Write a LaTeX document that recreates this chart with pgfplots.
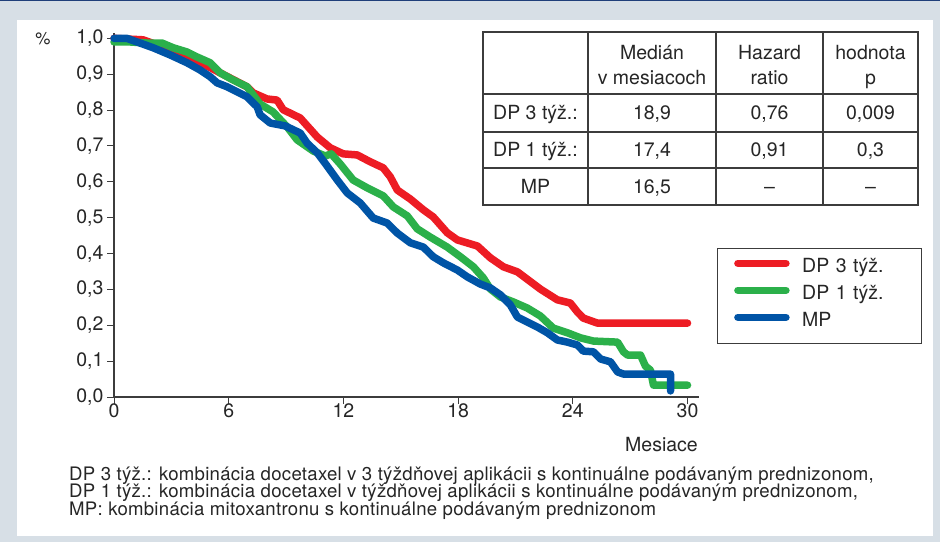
\documentclass[border=0pt]{standalone}
\usepackage{fontspec}
\setmainfont{TeX Gyre Heros}
\newfontfamily\capfont{TeX Gyre Heros}[LetterSpace=1.5]
\usepackage{pgfplots}
\pgfplotsset{compat=1.18}
\definecolor{bggray}{HTML}{D7DFE6}
\definecolor{navy}{HTML}{1F3F7A}
\definecolor{linegray}{HTML}{3C3C3C}
\definecolor{kmred}{HTML}{ED1C24}
\definecolor{kmgreen}{HTML}{2BB04A}
\definecolor{kmblue}{HTML}{0054A6}
\newcommand{\txt}{\fontsize{19.5}{21}\selectfont}

\begin{document}
\begin{tikzpicture}[x=1pt,y=1pt]
% frame
\fill[bggray] (0,0) rectangle (940,542);
\fill[navy] (0,540.6) rectangle (940,542);
\fill[white] (17,6) rectangle (933,522);

\begin{axis}[
  at={(114pt,145pt)}, anchor=south west,
  scale only axis, width=585pt, height=364pt,
  xmin=0, xmax=30.6, ymin=0, ymax=1.015,
  axis x line*=bottom, axis y line*=left,
  axis line style={-, linegray, line width=1.3pt},
  xtick={0,6,12,18,24,30},
  ytick={0,0.1,0.2,0.3,0.4,0.5,0.6,0.7,0.8,0.9,1},
  tick align=outside, major tick length=7pt,
  tick style={linegray, line width=1pt},
  /pgf/number format/assume math mode=true,
  tick label style={font=\txt, text=black!85},
  xticklabel style={yshift=4pt},
  yticklabel style={/pgf/number format/fixed, /pgf/number format/fixed zerofill,
    /pgf/number format/precision=1, /pgf/number format/use comma},
  clip=false,
  legend style={at={(axis description cs:1.0308,0.409)}, anchor=north west,
    draw=linegray, line width=1.3pt, font=\txt, text=black!85,
    inner xsep=16.5pt, inner ysep=10pt, row sep=6pt, column sep=10.5pt,
    nodes={inner sep=2pt, text height=12pt, text depth=5pt},
    /tikz/column 2/.style={text width=101pt}},
  legend cell align=left,
  legend image code/.code={\draw[#1, line cap=round] (0pt,6pt) -- (48pt,6pt);},
]
\addplot[kmred, line width=7.5pt, line join=round, line cap=round] coordinates {
  (0,1.0) (1.52,0.996) (2.41,0.979) (3.98,0.948) (5.55,0.904) (6.96,0.865)
  (7.28,0.848) (8.01,0.831) (8.53,0.828) (8.85,0.801) (9.74,0.778) (10.63,0.725)
  (11.31,0.695) (11.99,0.678) (12.72,0.675) (13.40,0.656) (14.08,0.639) (14.45,0.614)
  (14.82,0.577) (15.50,0.552) (16.18,0.522) (16.70,0.502) (17.43,0.458) (17.96,0.438)
  (19.01,0.421) (19.69,0.388) (20.37,0.363) (21.10,0.349) (22.30,0.301) (23.19,0.271)
  (23.87,0.262) (24.24,0.237) (24.55,0.220) (25.29,0.206) (30,0.206)
};
\addlegendentry{DP 3 týž.}
\addplot[kmgreen, line width=7.5pt, line join=round, line cap=round] coordinates {
  (0,0.990) (0.84,0.990) (1.73,0.987) (2.51,0.987) (3.09,0.974) (3.82,0.962)
  (4.35,0.948) (5.03,0.932) (5.55,0.904) (6.23,0.884) (6.96,0.865) (7.64,0.817)
  (8.32,0.795) (9.06,0.753) (9.58,0.717) (10.42,0.686) (11.05,0.672) (11.36,0.678)
  (11.83,0.650) (12.51,0.605) (13.25,0.583) (14.08,0.561) (14.61,0.530) (15.34,0.505)
  (15.86,0.469) (16.54,0.446) (17.43,0.418) (18.12,0.391) (18.80,0.363) (19.32,0.332)
  (19.69,0.301) (20.21,0.279) (20.89,0.265) (21.62,0.248) (22.30,0.226) (22.98,0.192)
  (23.72,0.179) (24.40,0.165) (25.08,0.156) (26.34,0.153) (26.65,0.126) (26.86,0.117)
  (27.54,0.117) (27.80,0.086) (28.06,0.075) (28.22,0.033) (30,0.033)
};
\addlegendentry{DP 1 týž.}
\addplot[kmblue, line width=7.5pt, line join=round, line cap=round] coordinates {
  (0,1.0) (0.68,1.0) (1.36,0.987) (2.04,0.974) (2.93,0.954) (3.82,0.932)
  (4.50,0.912) (5.03,0.893) (5.39,0.876) (5.92,0.865) (6.44,0.851) (6.96,0.837)
  (7.49,0.809) (7.64,0.787) (8.17,0.764) (8.95,0.756) (9.74,0.736) (10.10,0.708)
  (10.63,0.681) (11.15,0.644) (11.68,0.605) (12.20,0.569) (12.88,0.541) (13.56,0.499)
  (14.29,0.485) (14.82,0.457) (15.50,0.430) (16.18,0.418) (16.70,0.391) (17.23,0.374)
  (17.96,0.354) (18.48,0.335) (19.16,0.315) (19.69,0.304) (20.21,0.285) (20.73,0.257)
  (21.10,0.223) (21.62,0.209) (22.15,0.195) (22.67,0.179) (23.19,0.159) (23.72,0.153)
  (24.24,0.145) (24.55,0.128) (25.08,0.126) (25.45,0.106) (25.97,0.098) (26.34,0.070)
  (26.65,0.064) (29.11,0.064) (29.11,0.017)
};
\addlegendentry{MP}
\end{axis}

% axis titles
\node[font=\fontsize{17}{18}\selectfont, text=black!85, anchor=base, inner sep=0] at (43,497) {\%};
\node[font=\txt, text=black!85, anchor=base east, inner sep=0] at (698,91) {Mesiace};

% table
\begin{scope}[linegray, line width=1.3pt]
  \draw (483,337) rectangle (918,510);
  \draw (483,448) -- (918,448) (483,410) -- (918,410) (483,374) -- (918,374);
  \draw (588,337) -- (588,510) (716,337) -- (716,510) (823,337) -- (823,510);
\end{scope}
\begin{scope}[every node/.style={font=\txt, text=black!85, anchor=base, inner sep=0}]
  \node at (652,482) {Medián};      \node at (652,457) {v mesiacoch};
  \node at (769.5,482) {Hazard};    \node at (769.5,457) {ratio};
  \node at (870.5,482) {hodnota};   \node at (870.5,457) {p};
  \node at (535.5,422) {DP 3 týž.:}; \node at (652,422) {18,9};
  \node at (769.5,422) {0,76};       \node at (870.5,422) {0,009};
  \node at (535.5,385) {DP 1 týž.:}; \node at (652,385) {17,4};
  \node at (769.5,385) {0,91};       \node at (870.5,385) {0,3};
  \node at (535.5,348.5) {MP};       \node at (652,348.5) {16,5};
  \node at (769.5,348.5) {–};        \node at (870.5,348.5) {–};
\end{scope}

% caption
\begin{scope}[every node/.style={font=\capfont\fontsize{18.6}{17}\selectfont, text=black!85, anchor=base west, inner sep=0}]
  \node at (69,62) {DP 3 týž.: kombinácia docetaxel v 3 týždňovej aplikácii s kontinuálne podávaným prednizonom,};
  \node at (69,44.3) {DP 1 týž.: kombinácia docetaxel v týždňovej aplikácii s kontinuálne podávaným prednizonom,};
  \node at (69,26.6) {MP: kombinácia mitoxantronu s kontinuálne podávaným prednizonom};
\end{scope}
\end{tikzpicture}
\end{document}
